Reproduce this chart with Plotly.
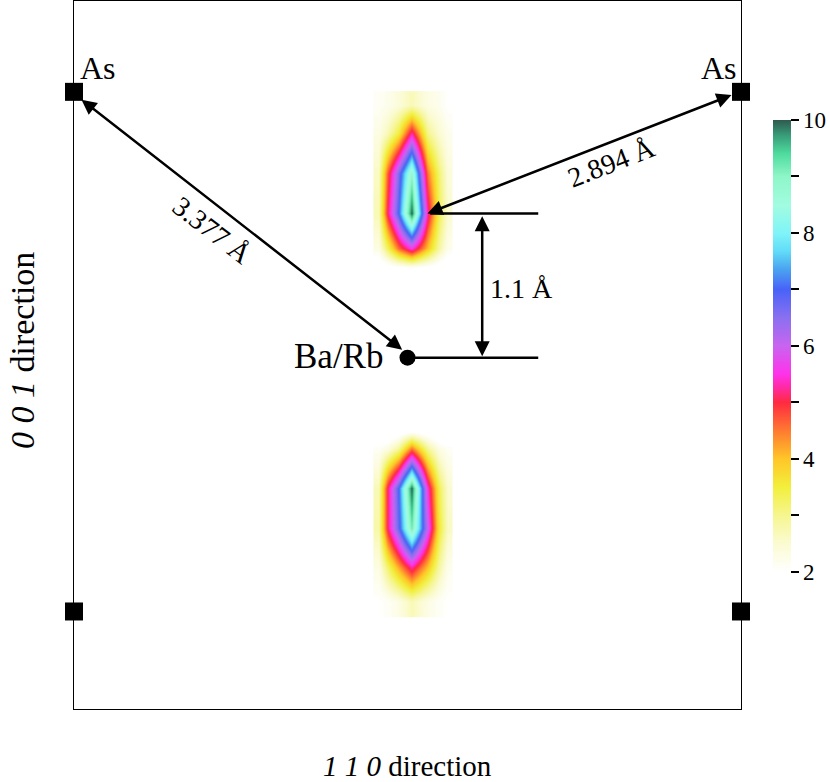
import plotly.graph_objs as go

# density grid (bilinear smoothed) -- columns along 1 1 0, rows along 0 0 1
X_GRID = [2.28, 2.35, 2.43, 2.53, 2.65, 2.73, 2.80]
Y_GRID = [0.81, 1.06, 1.35, 1.65, 1.95, 2.10, 3.30, 3.45, 3.71, 4.01, 4.31, 4.52]
Z_GRID = [
  [2.0, 2.1, 2.3, 2.7, 2.3, 2.1, 2.0],
  [2.3, 3.2, 4.2, 5.3, 4.0, 2.9, 2.2],
  [2.8, 5.1, 6.8, 9.2, 6.0, 3.6, 2.6],
  [2.7, 5.1, 7.0, 10.0, 5.5, 3.4, 2.5],
  [2.1, 2.3, 2.9, 4.5, 2.9, 2.3, 2.1],
  [1.4, 1.4, 1.5, 1.5, 1.5, 1.4, 1.4],
  [1.6, 1.7, 1.8, 1.9, 1.8, 1.7, 1.6],
  [2.3, 3.3, 4.6, 5.6, 4.0, 2.9, 2.2],
  [2.7, 5.1, 7.0, 10.0, 5.3, 3.4, 2.5],
  [2.6, 4.7, 6.6, 8.9, 4.5, 3.2, 2.4],
  [2.3, 2.7, 3.5, 5.3, 3.0, 2.5, 2.2],
  [2.1, 2.2, 2.4, 2.7, 2.3, 2.2, 2.0],
]
CB_TICKS = [2, 3, 4, 5, 6, 7, 8, 9, 10]
CB_LABELS = ["2", "", "4", "", "6", "", "8", "", "10"]

# atoms
AS_X = [0.0, 5.0, 0.0, 5.0]
AS_Y = [4.62, 4.62, 0.73, 0.73]
BA_X = [2.50]
BA_Y = [2.63]

# reference lines for the 1.1 A offset
UPPER_LINE_X = [2.67, 3.48]
UPPER_LINE_Y = [3.71, 3.71]
LOWER_LINE_X = [2.50, 3.48]
LOWER_LINE_Y = [2.63, 2.63]

# arrows: (x0, y0, x1, y1)
ARROWS = [
  (0.045, 4.57, 2.46, 2.69),
  (4.94, 4.60, 2.65, 3.71),
  (3.06, 3.70, 3.06, 2.64),
]

SERIF = "Liberation Serif"

COLORSCALE = [
  [0.0, "#ffffff"],
  [0.0625, "#fbfbd2"],
  [0.125, "#f6f690"],
  [0.1875, "#f2ef3c"],
  [0.25, "#ffc628"],
  [0.3125, "#ff7a30"],
  [0.375, "#ff2a40"],
  [0.41, "#ff2aa8"],
  [0.4375, "#ff32ea"],
  [0.5, "#c864f0"],
  [0.5625, "#8a70f0"],
  [0.625, "#4862f8"],
  [0.67, "#4aa4f0"],
  [0.71, "#62dcf8"],
  [0.75, "#80f4f8"],
  [0.8125, "#a2fce0"],
  [0.875, "#8ef6c8"],
  [0.925, "#4edc9e"],
  [0.965, "#389e7a"],
  [1.0, "#2f5a4e"],
]

fig = go.Figure()

fig.add_trace(go.Heatmap(
  x=X_GRID, y=Y_GRID, z=Z_GRID, zmin=2, zmax=10, zsmooth="best",
  colorscale=COLORSCALE, hoverinfo="skip",
  colorbar=dict(
    x=1.048, xanchor="left", xpad=0, y=0.513, yanchor="middle", ypad=0,
    len=452, lenmode="pixels", thickness=18, outlinewidth=0,
    tickvals=CB_TICKS, ticktext=CB_LABELS, ticks="outside", ticklen=8,
    tickwidth=1.5, tickcolor="black",
    tickfont=dict(family=SERIF, size=23, color="black"),
  ),
))

fig.add_trace(go.Scatter(x=UPPER_LINE_X, y=UPPER_LINE_Y, mode="lines",
  line=dict(color="black", width=2.5), showlegend=False, hoverinfo="skip"))
fig.add_trace(go.Scatter(x=LOWER_LINE_X, y=LOWER_LINE_Y, mode="lines",
  line=dict(color="black", width=2.5), showlegend=False, hoverinfo="skip"))

fig.add_trace(go.Scatter(x=AS_X, y=AS_Y, mode="markers", cliponaxis=False,
  marker=dict(symbol="square", size=18, color="black"), showlegend=False))
fig.add_trace(go.Scatter(x=BA_X, y=BA_Y, mode="markers", cliponaxis=False,
  marker=dict(symbol="circle", size=16, color="black"), showlegend=False))

for x0, y0, x1, y1 in ARROWS:
  fig.add_annotation(
    x=x1, y=y1, ax=x0, ay=y0, xref="x", yref="y", axref="x", ayref="y",
    text="", showarrow=True, arrowside="end+start",
    arrowhead=2, startarrowhead=2, arrowsize=1.2, startarrowsize=1.2,
    arrowwidth=2.5, arrowcolor="black",
  )

label_font = dict(family=SERIF, size=32, color="black")
dist_font = dict(family=SERIF, size=28, color="black")

fig.add_annotation(x=0.18, y=4.80, text="As", showarrow=False, font=label_font)
fig.add_annotation(x=4.835, y=4.80, text="As", showarrow=False, font=label_font)
fig.add_annotation(x=2.33, y=2.64, text="Ba/Rb", showarrow=False, xanchor="right",
  font=dict(family=SERIF, size=35, color="black"))
fig.add_annotation(x=1.04, y=3.585, text="3.377 Å", showarrow=False, textangle=37.8, font=dist_font)
fig.add_annotation(x=4.03, y=4.09, text="2.894 Å", showarrow=False, textangle=-21.4, font=dist_font)
fig.add_annotation(x=3.10, y=3.15, text="1.1 Å", showarrow=False, xanchor="left", font=dist_font)

fig.add_annotation(x=0.5, y=-0.081, xref="paper", yref="paper", showarrow=False,
  xanchor="center", yanchor="middle",
  text="<i>1 1 0</i> direction", font=dict(family=SERIF, size=29, color="black"))
fig.add_annotation(x=-0.078, y=0.507, xref="paper", yref="paper", showarrow=False,
  xanchor="center", yanchor="middle",
  text="<i>0 0 1</i> direction", textangle=-90, font=dict(family=SERIF, size=34, color="black"))

axis_style = dict(showgrid=False, zeroline=False, showticklabels=False, ticks="",
  showline=True, mirror=True, linecolor="black", linewidth=1.3)
fig.update_xaxes(range=[0, 5], **axis_style)
fig.update_yaxes(range=[0, 5.3], **axis_style)

fig.layout.update(
  width=830, height=782,
  margin=dict(l=74, r=89, t=1, b=73),
  plot_bgcolor="white", paper_bgcolor="white",
  showlegend=False,
)

fig.write_html("out.html", config={"displayModeBar": False},
  post_script="document.body.style.margin='0';")
